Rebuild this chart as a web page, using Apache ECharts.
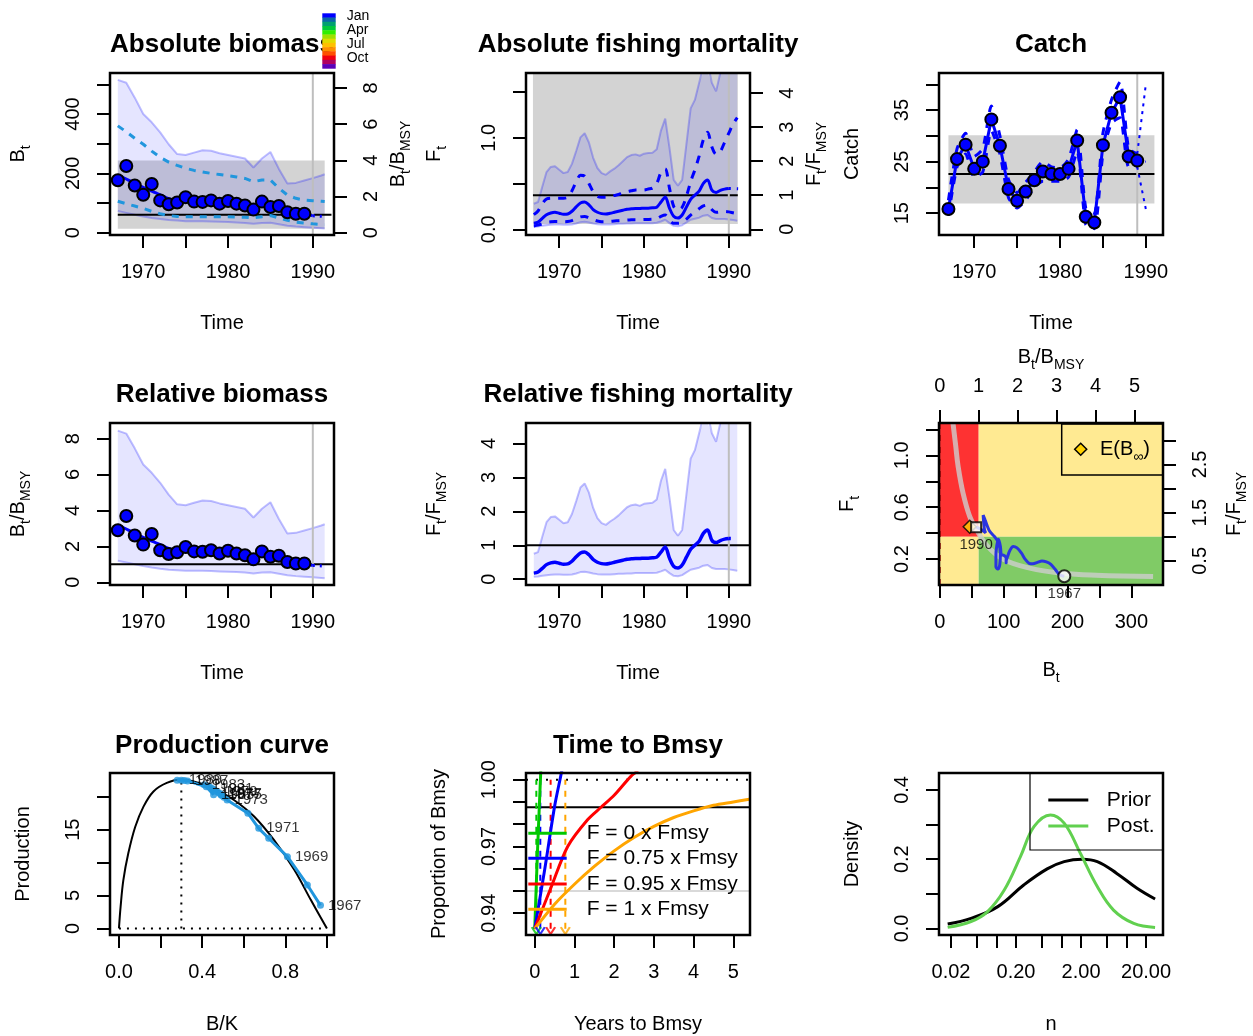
<!DOCTYPE html>
<html>
<head>
<meta charset="utf-8">
<script src="https://cdn.jsdelivr.net/npm/echarts@6/dist/echarts.min.js"></script>
<style>
  html, body { margin: 0; padding: 0; background: #fff; }
  #chart { width: 1253px; height: 1036px; }
</style>
</head>
<body>
<div id="chart"></div>
<script>
// ---------- reference points of the surplus production model ----------
const Bmsy = 61;
const Fmsy = 0.372;
const MSY = 22.6;
const bmsyCI = [13.5, 243];
const fmsyCI = [0.058, 3];
const msyCI = [16.9, 30.1];

// ---------- estimated states (half-yearly) ----------
const tEst = [1967, 1967.5, 1968, 1968.5, 1969, 1969.5, 1970, 1970.5, 1971, 1971.5,
  1972, 1972.5, 1973, 1973.5, 1974, 1974.5, 1975, 1975.5, 1976, 1976.5,
  1977, 1977.5, 1978, 1978.5, 1979, 1979.5, 1980, 1980.5, 1981, 1981.5,
  1982, 1982.5, 1983, 1983.5, 1984, 1984.5, 1985, 1985.5, 1986, 1986.5,
  1987, 1987.5, 1988, 1988.5, 1989, 1989.5, 1990];
const biomassEst = [195, 188, 181, 174, 167, 160, 153, 146, 140, 134,
  128, 121, 115, 110, 106, 104, 104, 104, 104, 104,
  104, 104, 103, 102, 101, 100, 99, 98, 97, 96,
  95, 92, 88, 88, 91, 94, 95, 92, 86, 78,
  71, 68, 70, 72, 66, 61, 57];
const fRelEst = [0.18, 0.21, 0.32, 0.43, 0.48, 0.50, 0.47, 0.44, 0.45, 0.53,
  0.66, 0.77, 0.80, 0.72, 0.58, 0.50, 0.46, 0.45, 0.47, 0.50,
  0.53, 0.56, 0.59, 0.60, 0.61, 0.61, 0.62, 0.62, 0.63, 0.65,
  0.80, 0.95, 0.62, 0.38, 0.33, 0.42, 0.65, 0.88, 1.00, 1.12,
  1.35, 1.45, 1.15, 1.08, 1.14, 1.18, 1.20];
const bPredT = [1990, 1991.4];
const bPred = [57, 55];
const fPredT = [1990, 1991.1];
const fRelPred = [1.20, 1.19];

// ---------- biomass index ----------
const idxYears = [1967, 1968, 1969, 1970, 1971, 1972, 1973, 1974, 1975, 1976, 1977, 1978,
  1979, 1980, 1981, 1982, 1983, 1984, 1985, 1986, 1987, 1988, 1989];
const biomassIndex = [177, 225, 159, 128, 164, 109, 96, 102, 120, 105, 104, 109,
  98, 107, 98, 92, 78, 105, 87, 90, 69, 64, 64];

// ---------- biomass intervals ----------
const tBandB = [1967, 1968, 1969, 1970, 1971, 1972, 1973, 1974, 1975, 1976, 1977, 1978, 1979,
  1980, 1981, 1982, 1983, 1984, 1985, 1986, 1987, 1988, 1989, 1990, 1991, 1991.4];
const bBandUp = [515, 505, 455, 400, 372, 338, 298, 265, 262, 270, 278, 276, 268,
  262, 256, 250, 220, 250, 272, 215, 166, 168, 176, 184, 193, 197];
const bBandLo = [73, 67, 61, 55, 50, 46, 43, 41, 39, 39, 39, 38, 37,
  36, 35, 33, 30, 33, 34, 29, 24, 21, 19, 17, 15, 14];
const bCiUp = [360, 340, 318, 298, 275, 254, 238, 227, 217, 210, 205, 200, 196,
  192, 188, 183, 172, 178, 178, 150, 127, 116, 110, 108, 106, 105];
const bCiLo = [106, 98, 90, 82, 72, 64, 58, 55, 54, 54, 54, 54, 54,
  54, 53, 52, 50, 54, 58, 50, 42, 36, 33, 30, 28, 27];

// ---------- fishing mortality intervals ----------
const tBandF = [1967, 1967.5, 1968, 1968.5, 1969, 1969.5, 1970, 1970.5, 1971, 1971.5,
  1972, 1972.5, 1973, 1973.5, 1974, 1974.5, 1975, 1975.5, 1976, 1976.5,
  1977, 1977.5, 1978, 1978.5, 1979, 1979.5, 1980, 1980.5, 1981, 1981.5,
  1982, 1982.5, 1983, 1983.5, 1984, 1984.5, 1985, 1985.5, 1986, 1986.5,
  1987, 1987.5, 1988, 1988.5, 1989, 1989.5, 1990, 1990.5, 1991];
const fRelBandUp = [0.75, 0.80, 1.25, 1.68, 1.83, 1.85, 1.75, 1.65, 1.68, 1.92,
  2.30, 2.70, 2.82, 2.55, 2.10, 1.80, 1.65, 1.60, 1.70, 1.78,
  1.88, 2.00, 2.12, 2.18, 2.20, 2.16, 2.22, 2.24, 2.25, 2.35,
  2.90, 3.25, 2.40, 1.45, 1.28, 1.45, 2.50, 3.55, 3.80, 4.30,
  4.80, 4.90, 4.30, 4.05, 4.60, 5.20, 5.50, 5.60, 5.60];
const fRelBandLo = [0.07, 0.08, 0.10, 0.12, 0.13, 0.14, 0.14, 0.13, 0.13, 0.14,
  0.17, 0.21, 0.22, 0.20, 0.17, 0.15, 0.14, 0.14, 0.14, 0.15,
  0.16, 0.16, 0.17, 0.17, 0.18, 0.18, 0.18, 0.18, 0.18, 0.19,
  0.23, 0.28, 0.18, 0.10, 0.09, 0.12, 0.20, 0.28, 0.31, 0.34,
  0.40, 0.42, 0.33, 0.30, 0.30, 0.30, 0.29, 0.27, 0.25];
const fCiUp = [0.16, 0.20, 0.28, 0.33, 0.34, 0.34, 0.34, 0.34, 0.35, 0.42,
  0.52, 0.59, 0.58, 0.50, 0.41, 0.36, 0.35, 0.35, 0.36, 0.37,
  0.38, 0.40, 0.41, 0.42, 0.43, 0.43, 0.43, 0.44, 0.45, 0.50,
  0.62, 0.66, 0.45, 0.25, 0.21, 0.24, 0.36, 0.52, 0.65, 0.80,
  0.98, 1.06, 0.90, 0.82, 0.85, 0.95, 1.05, 1.15, 1.22];
const fCiLo = [0.037, 0.045, 0.06, 0.075, 0.082, 0.085, 0.085, 0.083, 0.085, 0.095,
  0.115, 0.135, 0.14, 0.125, 0.105, 0.09, 0.083, 0.083, 0.086, 0.09,
  0.094, 0.098, 0.10, 0.103, 0.105, 0.105, 0.107, 0.108, 0.11, 0.115,
  0.14, 0.155, 0.10, 0.065, 0.066, 0.075, 0.11, 0.155, 0.19, 0.225,
  0.255, 0.265, 0.215, 0.185, 0.19, 0.195, 0.19, 0.18, 0.17];

// ---------- catch ----------
const catchYears = [1967, 1968, 1969, 1970, 1971, 1972, 1973, 1974, 1975, 1976, 1977, 1978,
  1979, 1980, 1981, 1982, 1983, 1984, 1985, 1986, 1987, 1988, 1989];
const catchObs = [15.8, 25.5, 28.3, 23.6, 25.0, 33.2, 28.1, 19.7, 17.4, 19.2, 21.4, 23.1,
  22.6, 22.6, 23.6, 29.1, 14.3, 13.2, 28.2, 34.5, 37.5, 26.0, 25.2];
const catchUp = [17.5, 27.5, 30.5, 26.0, 27.5, 35.8, 30.0, 21.5, 19.0, 21.0, 23.0, 25.0,
  24.0, 23.8, 25.5, 31.2, 16.0, 15.0, 30.5, 37.0, 40.5, 27.5, 26.5];
const catchLo = [14.5, 24.0, 26.5, 22.0, 23.0, 31.0, 26.5, 18.0, 16.0, 17.5, 20.0, 21.2,
  21.2, 21.2, 22.0, 27.0, 12.8, 12.0, 26.5, 32.5, 33.5, 24.0, 24.0];
const catchPredT = [1989, 1990];
const catchPredMid = [25.2, 25.0];
const catchPredUp = [26.5, 40.0];
const catchPredLo = [24.0, 15.8];

// ---------- phase plot ----------
const kobeRefB = [20.9, 25, 28.7, 36.5, 46.9, 57.4, 73, 99, 141, 193, 245, 334];
const kobeRefF = [1.245, 1.076, 0.92, 0.71, 0.53, 0.43, 0.31, 0.2, 0.13, 0.09, 0.075, 0.065];
const eBinf = [47, 0.449];

// ---------- production curve ----------
const prodCurveBK = [0, 0.008, 0.021, 0.045, 0.078, 0.118, 0.166, 0.23, 0.30, 0.391, 0.472, 0.553, 0.65, 0.746, 0.843, 0.923, 1.0];
const prodCurveP = [0, 3.3, 7.3, 11.4, 15.4, 18.5, 20.8, 22.1, 22.6, 22.0, 21.0, 19.5, 17.0, 13.4, 8.9, 4.3, 0];
const prodYears = [1967, 1968, 1969, 1970, 1971, 1972, 1973, 1974, 1975, 1976, 1977, 1978,
  1979, 1980, 1981, 1982, 1983, 1984, 1985, 1986, 1987, 1988, 1989, 1990];
const prodBK = [0.969, 0.906, 0.81, 0.72, 0.672, 0.62, 0.52, 0.505, 0.49, 0.495, 0.49, 0.48,
  0.47, 0.46, 0.45, 0.44, 0.41, 0.43, 0.455, 0.42, 0.33, 0.315, 0.30, 0.28];
const prodP = [3.5, 6.6, 10.9, 13.7, 15.2, 17.5, 19.5, 19.9, 20.3, 20.2, 20.4, 20.6,
  20.8, 21.0, 21.2, 21.4, 21.8, 21.6, 20.3, 21.5, 22.4, 22.45, 22.5, 22.5];
const prodLabelYears = [1967, 1969, 1971, 1973, 1975, 1977, 1979, 1981, 1983, 1985, 1987, 1989];

// ---------- time to Bmsy ----------
const ttbScenarios = ['F = 0 x Fmsy', 'F = 0.75 x Fmsy', 'F = 0.95 x Fmsy', 'F = 1 x Fmsy'];
const ttbColors = ['#00c800', '#0000ff', '#ff0000', '#ffa500'];
const ttbT = [
  [0, 0.07, 0.15, 0.17],
  [0, 0.25, 0.5, 0.67, 0.72],
  [0, 0.42, 0.83, 1.33, 1.67, 2.0, 2.42, 2.6],
  [0, 0.5, 1, 1.5, 2, 2.5, 3, 3.5, 4, 4.5, 5, 5.4]
];
const ttbProp = [
  [0.933, 0.968, 1.003, 1.012],
  [0.933, 0.9595, 0.988, 1.003, 1.008],
  [0.933, 0.952, 0.970, 0.982, 0.9876, 0.993, 1.0015, 1.004],
  [0.933, 0.944, 0.953, 0.961, 0.968, 0.974, 0.979, 0.983, 0.986, 0.9885, 0.990, 0.9912]
];
const ttbReach = [0.04, 0.14, 0.40, 0.77];
const ttbStart = 0.933;
const ttbRefLine = 0.9876;

// ---------- prior / posterior of n ----------
const nPrior = [0.0178, 0.0407, 0.105, 0.263, 0.603, 1.10, 2.09, 3.55, 7.08, 14.5, 27.5];
const densPrior = [0.0125, 0.029, 0.063, 0.1255, 0.172, 0.193, 0.200, 0.193, 0.159, 0.116, 0.085];
const nPost = [0.0178, 0.0407, 0.0724, 0.132, 0.234, 0.380, 0.676, 1.10, 1.95, 3.55, 6.31, 12.9, 27.5];
const densPost = [0.003, 0.02, 0.048, 0.111, 0.2075, 0.2945, 0.328, 0.304, 0.217, 0.121, 0.053, 0.0145, 0.003];

// ---------- month colour key ----------
const monthColors = ['#0000ff', '#0a66a8', '#00a070', '#00c83c', '#30ee00', '#a0e000',
  '#e0dc00', '#ffc000', '#ff9000', '#ff5000', '#f00010', '#b00060', '#5a00b8'];
const monthLabels = ['Jan', 'Apr', 'Jul', 'Oct'];

// =====================================================================
const FONT = '"Liberation Sans", Arial, Helvetica, sans-serif';
const COL_L = [110, 526, 939];
const ROW_T = [73, 423, 773];
const W = 224, H = 162;
const TITLE_Y = [44.5, 395, 745.5];
const TIME_TICKS = [1970, 1975, 1980, 1985, 1990];
const TIME_LABELS = [1970, 1980, 1990];

const grids = [], xAxes = [], yAxes = [], series = [], graphic = [];
const RICH = {
  n: { fontSize: 20, fontFamily: FONT, color: '#000', lineHeight: 30, verticalAlign: 'middle' },
  s: { fontSize: 14, fontFamily: FONT, color: '#000', lineHeight: 30, verticalAlign: 'bottom' }
};
const zip = (xs, ys, f) => xs.map((x, i) => [x, f ? f(ys[i]) : ys[i]]);

function axisOpt(gridIndex, a, position, isX) {
  return {
    type: 'value', gridIndex, position, min: a.min, max: a.max,
    axisLine: { show: false, onZero: false },
    splitLine: { show: false }, splitArea: { show: false },
    axisTick: { show: true, customValues: a.ticks, length: 13, lineStyle: { color: '#000', width: 2 } },
    axisLabel: {
      show: true, customValues: a.labels || a.ticks, margin: 27, rotate: isX ? 0 : 90,
      color: '#000', fontSize: 20, fontFamily: FONT, hideOverlap: false,
      formatter: a.fmt || (v => String(v))
    },
    name: a.name || '', nameLocation: 'middle', nameGap: a.gap || 0, nameRotate: isX ? 0 : 90,
    nameMoveOverlap: false,
    nameTextStyle: { color: '#000', fontSize: 20, fontFamily: FONT, rich: RICH }
  };
}

function panel(col, row, spec) {
  const gi = grids.length;
  const left = COL_L[col], top = ROW_T[row];
  grids.push({ left, top, width: W, height: H, show: false, containLabel: false, outerBoundsMode: 'none' });
  const ix = { x: xAxes.length, y: yAxes.length };
  xAxes.push(axisOpt(gi, spec.x, 'bottom', true));
  yAxes.push(axisOpt(gi, spec.y, 'left', false));
  if (spec.x2) xAxes.push(axisOpt(gi, spec.x2, 'top', true));
  if (spec.y2) yAxes.push(axisOpt(gi, spec.y2, 'right', false));
  graphic.push({ type: 'rect', z: 100, silent: true, shape: { x: left, y: top, width: W, height: H },
    style: { fill: 'none', stroke: '#000', lineWidth: 2.5 } });
  if (spec.title) {
    graphic.push({ type: 'text', z: 100, silent: true, x: left + W / 2, y: TITLE_Y[row],
      style: { text: spec.title, fill: '#000', font: 'bold 26px ' + FONT,
        textAlign: 'center', textVerticalAlign: 'middle', align: 'center', verticalAlign: 'middle' } });
  }
  return ix;
}

function line(ix, data, color, width, dash, extra) {
  series.push(Object.assign({
    type: 'line', xAxisIndex: ix.x, yAxisIndex: ix.y, data, symbol: 'none', showSymbol: false,
    lineStyle: { color, width, type: dash || 'solid', cap: 'butt' },
    silent: true, z: 3, clip: true, animation: false
  }, extra || {}));
}
function clampPt(p, cs) {
  return [Math.min(Math.max(p[0], cs.x), cs.x + cs.width), Math.min(Math.max(p[1], cs.y), cs.y + cs.height)];
}
function band(ix, xs, lo, hi, fill, z) {
  series.push({
    type: 'custom', xAxisIndex: ix.x, yAxisIndex: ix.y, silent: true, z: z || 1, clip: true, data: [0],
    animation: false,
    renderItem: (params, api) => {
      const cs = params.coordSys;
      const pts = xs.map((x, i) => clampPt(api.coord([x, hi[i]]), cs));
      for (let i = xs.length - 1; i >= 0; i--) pts.push(clampPt(api.coord([xs[i], lo[i]]), cs));
      return { type: 'polygon', shape: { points: pts }, style: { fill } };
    }
  });
}
function rect(ix, x0, x1, y0, y1, fill, z) {
  series.push({
    type: 'custom', xAxisIndex: ix.x, yAxisIndex: ix.y, silent: true, z: z || 1, clip: true, data: [0],
    animation: false,
    renderItem: (params, api) => {
      const cs = params.coordSys;
      const a = clampPt(api.coord([x0, y1]), cs), b = clampPt(api.coord([x1, y0]), cs);
      return { type: 'rect', shape: { x: a[0], y: a[1], width: b[0] - a[0], height: b[1] - a[1] }, style: { fill } };
    }
  });
}
function dots(ix, data, extra) {
  series.push(Object.assign({
    type: 'scatter', xAxisIndex: ix.x, yAxisIndex: ix.y, data, symbol: 'circle', symbolSize: 12,
    itemStyle: { color: '#0000ff', borderColor: '#000', borderWidth: 2, opacity: 1 },
    silent: true, z: 6, animation: false
  }, extra || {}));
}

const BAND_FILL = 'rgba(0,0,255,0.1)';
const BAND_EDGE = 'rgba(0,0,255,0.25)';
const LIGHT_BLUE = '#2196dd';
const GREY_RECT = '#d3d3d3';
const VLINE = '#bebebe';
const SMALL = { color: '#000', fontSize: 15, fontFamily: FONT };

// ---------------- Absolute biomass ----------------
const b1 = [-7.5, 538];
const p1 = panel(0, 0, {
  title: 'Absolute biomass',
  x: { min: 1966.08, max: 1992.5, ticks: TIME_TICKS, labels: TIME_LABELS, name: 'Time', gap: 78 },
  y: { min: b1[0], max: b1[1], ticks: [0, 100, 200, 300, 400, 500], labels: [0, 200, 400], name: '{n|B}{s|t}', gap: 77 },
  y2: { min: b1[0] / Bmsy, max: b1[1] / Bmsy, ticks: [0, 2, 4, 6, 8], name: '{n|B}{s|t}{n|/B}{s|MSY}', gap: 49 }
});
rect(p1, 1967, 1991.4, bmsyCI[0], bmsyCI[1], GREY_RECT, 1);
band(p1, tBandB, bBandLo, bBandUp, BAND_FILL, 2);
line(p1, zip(tBandB, bBandUp), BAND_EDGE, 2);
line(p1, zip(tBandB, bBandLo), BAND_EDGE, 2);
line(p1, [[1967, Bmsy], [1992.2, Bmsy]], '#000', 2);
line(p1, [[1990, b1[0]], [1990, b1[1]]], VLINE, 2);
line(p1, zip(tBandB, bCiUp), LIGHT_BLUE, 3, [7, 7]);
line(p1, zip(tBandB, bCiLo), LIGHT_BLUE, 3, [7, 7]);
line(p1, zip(tEst, biomassEst), '#0000ff', 3, 'solid', { smooth: 0.3 });
line(p1, zip(bPredT, bPred), '#0000ff', 3, [2, 5]);
dots(p1, zip(idxYears, biomassIndex));

// month key
const keyTop = 13.3, keyH = 55 / monthColors.length;
monthColors.forEach((c, i) => {
  graphic.push({ type: 'rect', z: 110, silent: true,
    shape: { x: 322.3, y: keyTop + i * keyH, width: 13.4, height: keyH + 0.4 }, style: { fill: c } });
});
monthLabels.forEach((m, i) => {
  graphic.push({ type: 'text', z: 110, silent: true, x: 346.7, y: 16 + i * 14,
    style: { text: m, fill: '#000', font: '14px ' + FONT, textAlign: 'left', textVerticalAlign: 'middle', align: 'left', verticalAlign: 'middle' } });
});

// ---------------- Absolute fishing mortality ----------------
const fr = [-0.168, 4.59];
const p2 = panel(1, 0, {
  title: 'Absolute fishing mortality',
  x: { min: 1966.08, max: 1992.5, ticks: TIME_TICKS, labels: TIME_LABELS, name: 'Time', gap: 78 },
  y: { min: fr[0] * Fmsy, max: fr[1] * Fmsy, ticks: [0, 0.5, 1.0, 1.5], labels: [0, 1], fmt: v => v.toFixed(1), name: '{n|F}{s|t}', gap: 77 },
  y2: { min: fr[0], max: fr[1], ticks: [0, 1, 2, 3, 4], name: '{n|F}{s|t}{n|/F}{s|MSY}', gap: 49 }
});
const toF = v => v * Fmsy;
rect(p2, 1966.9, 1991.06, fmsyCI[0], fmsyCI[1], GREY_RECT, 1);
band(p2, tBandF, fRelBandLo.map(toF), fRelBandUp.map(toF), BAND_FILL, 2);
line(p2, zip(tBandF, fRelBandUp, toF), BAND_EDGE, 2);
line(p2, zip(tBandF, fRelBandLo, toF), BAND_EDGE, 2);
line(p2, [[1966.9, Fmsy], [1991.06, Fmsy]], '#000', 2);
line(p2, [[1990, fr[0] * Fmsy], [1990, fr[1] * Fmsy]], VLINE, 2);
line(p2, zip(tBandF, fCiUp), '#0000ff', 3, [8, 8], { smooth: 0.3 });
line(p2, zip(tBandF, fCiLo), '#0000ff', 3, [8, 8], { smooth: 0.3 });
line(p2, zip(tEst, fRelEst, toF), '#0000ff', 3, 'solid', { smooth: 0.3 });
line(p2, zip(fPredT, fRelPred, toF), '#0000ff', 3, [2, 6]);

// ---------------- Catch ----------------
const c3 = [10.77, 42.2];
const p3 = panel(2, 0, {
  title: 'Catch',
  x: { min: 1965.9, max: 1992.0, ticks: TIME_TICKS, labels: TIME_LABELS, name: 'Time', gap: 78 },
  y: { min: c3[0], max: c3[1], ticks: [15, 20, 25, 30, 35, 40], labels: [15, 25, 35], name: 'Catch', gap: 77 }
});
rect(p3, 1967, 1991, msyCI[0], msyCI[1], GREY_RECT, 1);
line(p3, [[1967, MSY], [1991, MSY]], '#000', 2);
line(p3, [[1989, c3[0]], [1989, c3[1]]], VLINE, 2);
line(p3, zip(catchYears, catchUp), '#0000ff', 3, [8, 8], { smooth: 0.2 });
line(p3, zip(catchYears, catchLo), '#0000ff', 3, [8, 8], { smooth: 0.2 });
line(p3, zip(catchYears, catchObs), '#0000ff', 3);
line(p3, zip(catchPredT, catchPredMid), '#0000ff', 2, [3, 5]);
line(p3, zip(catchPredT, catchPredUp), '#0000ff', 2, [3, 5]);
line(p3, zip(catchPredT, catchPredLo), '#0000ff', 2, [3, 5]);
dots(p3, zip(catchYears, catchObs));

// ---------------- Relative biomass ----------------
const r4 = [-0.15, 8.87];
const p4 = panel(0, 1, {
  title: 'Relative biomass',
  x: { min: 1966.08, max: 1992.5, ticks: TIME_TICKS, labels: TIME_LABELS, name: 'Time', gap: 78 },
  y: { min: r4[0], max: r4[1], ticks: [0, 2, 4, 6, 8], name: '{n|B}{s|t}{n|/B}{s|MSY}', gap: 77 }
});
const toRel = v => v / Bmsy;
band(p4, tBandB, bBandLo.map(toRel), bBandUp.map(toRel), BAND_FILL, 2);
line(p4, zip(tBandB, bBandUp, toRel), BAND_EDGE, 2);
line(p4, zip(tBandB, bBandLo, toRel), BAND_EDGE, 2);
line(p4, [[1966.08, 1], [1992.5, 1]], '#000', 2);
line(p4, [[1990, r4[0]], [1990, r4[1]]], VLINE, 2);
line(p4, zip(tEst, biomassEst, toRel), '#0000ff', 3, 'solid', { smooth: 0.3 });
line(p4, zip(bPredT, bPred, toRel), '#0000ff', 3, [2, 5]);
dots(p4, zip(idxYears, biomassIndex, toRel));

// ---------------- Relative fishing mortality ----------------
const r5 = [-0.17, 4.6];
const p5 = panel(1, 1, {
  title: 'Relative fishing mortality',
  x: { min: 1966.08, max: 1992.5, ticks: TIME_TICKS, labels: TIME_LABELS, name: 'Time', gap: 78 },
  y: { min: r5[0], max: r5[1], ticks: [0, 1, 2, 3, 4], name: '{n|F}{s|t}{n|/F}{s|MSY}', gap: 77 }
});
band(p5, tBandF, fRelBandLo, fRelBandUp, BAND_FILL, 2);
line(p5, zip(tBandF, fRelBandUp), BAND_EDGE, 2);
line(p5, zip(tBandF, fRelBandLo), BAND_EDGE, 2);
line(p5, [[1966.08, 1], [1992.5, 1]], '#000', 2);
line(p5, [[1990, r5[0]], [1990, r5[1]]], VLINE, 2);
line(p5, zip(tEst, fRelEst), '#0000ff', 3.5, 'solid', { smooth: 0.3 });
line(p5, zip(fPredT, fRelPred), '#0000ff', 3.5, [2, 8]);

// ---------------- Phase plot ----------------
const kx = [-1.1, 349.5], ky = [0, 1.25];
const p6 = panel(2, 1, {
  x: { min: kx[0], max: kx[1], ticks: [0, 50, 100, 150, 200, 250, 300], labels: [0, 100, 200, 300], name: '{n|B}{s|t}', gap: 70 },
  y: { min: ky[0], max: ky[1], ticks: [0.2, 0.4, 0.6, 0.8, 1.0, 1.2], labels: [0.2, 0.6, 1.0], fmt: v => v.toFixed(1), name: '{n|F}{s|t}', gap: 77 },
  x2: { min: kx[0] / Bmsy, max: kx[1] / Bmsy, ticks: [0, 1, 2, 3, 4, 5], name: '{n|B}{s|t}{n|/B}{s|MSY}', gap: 51 },
  y2: { min: ky[0] / Fmsy, max: ky[1] / Fmsy, ticks: [0.5, 1.0, 1.5, 2.0, 2.5, 3.0], labels: [0.5, 1.5, 2.5], fmt: v => v.toFixed(1), name: '{n|F}{s|t}{n|/F}{s|MSY}', gap: 56 }
});
rect(p6, kx[0], Bmsy, Fmsy, ky[1], '#fe3232', 1);
rect(p6, kx[0], Bmsy, ky[0], Fmsy, '#ffea92', 1);
rect(p6, Bmsy, kx[1], Fmsy, ky[1], '#ffea92', 1);
rect(p6, Bmsy, kx[1], ky[0], Fmsy, '#80cb66', 1);
line(p6, [[0, ky[0]], [0, ky[1]]], '#a00000', 2, [6, 6]);
line(p6, zip(kobeRefB, kobeRefF), 'rgba(205,205,205,0.8)', 5, 'solid', { smooth: 0.4 });
line(p6, biomassEst.map((b, i) => [b, fRelEst[i] * Fmsy]), '#2a35e0', 3, 'solid', { smooth: 0.3, z: 4 });
dots(p6, [eBinf], { symbol: 'diamond', symbolSize: [13, 13], itemStyle: { color: '#ffd000', borderColor: '#000', borderWidth: 1.5 }, z: 6 });
dots(p6, [[biomassEst[0], fRelEst[0] * Fmsy, tEst[0]]], {
  symbolSize: 12, itemStyle: { color: '#fff', borderColor: '#000', borderWidth: 2 }, z: 7,
  label: Object.assign({ show: true, position: 'bottom', distance: 3, formatter: p => String(p.value[2]) }, SMALL)
});
const last = tEst.length - 1;
dots(p6, [[biomassEst[last], fRelEst[last] * Fmsy, tEst[last]]], {
  symbol: 'rect', symbolSize: 10, itemStyle: { color: '#fff', borderColor: '#000', borderWidth: 2 }, z: 7,
  label: Object.assign({ show: true, position: 'bottom', distance: 4, formatter: p => String(p.value[2]) }, SMALL)
});
// phase plot legend
graphic.push({ type: 'rect', z: 101, silent: true, shape: { x: 1061.7, y: 424, width: 101.3, height: 51 },
  style: { fill: 'none', stroke: '#000', lineWidth: 1.5 } });
graphic.push({ type: 'polygon', z: 102, silent: true,
  shape: { points: [[1080.7, 443.3], [1086.7, 449.3], [1080.7, 455.3], [1074.7, 449.3]] },
  style: { fill: '#ffd000', stroke: '#000', lineWidth: 1.5 } });
graphic.push({ type: 'text', z: 102, silent: true, x: 1100, y: 449.3,
  style: { text: '{n|E(B}{s|∞}{n|)}', rich: RICH, textAlign: 'left', textVerticalAlign: 'middle', align: 'left', verticalAlign: 'middle' } });

// ---------------- Production curve ----------------
const p7 = panel(0, 2, {
  title: 'Production curve',
  x: { min: -0.043, max: 1.034, ticks: [0, 0.2, 0.4, 0.6, 0.8, 1.0], labels: [0, 0.4, 0.8], fmt: v => v.toFixed(1), name: 'B/K', gap: 79 },
  y: { min: -1.0, max: 23.6, ticks: [0, 5, 10, 15, 20], labels: [0, 5, 15], name: 'Production', gap: 77 }
});
line(p7, zip(prodCurveBK, prodCurveP), '#000', 2, 'solid', { smooth: 0.35 });
line(p7, [[0.3, 0], [0.3, MSY]], '#000', 2, [2, 6]);
line(p7, [[0, 0], [1, 0]], '#000', 2, [2, 6]);
line(p7, zip(prodBK, prodP), LIGHT_BLUE, 3, 'solid', { z: 4 });
dots(p7, prodBK.map((b, i) => [b, prodP[i], prodYears[i]]), {
  symbolSize: 7, itemStyle: { color: LIGHT_BLUE, borderWidth: 0 }, z: 5,
  label: Object.assign({ show: true, position: 'right', distance: 4,
    formatter: p => prodLabelYears.indexOf(p.value[2]) >= 0 ? String(p.value[2]) : '' }, SMALL)
});

// ---------------- Time to Bmsy ----------------
const ty = [0.9302, 1.003];
const p8 = panel(1, 2, {
  title: 'Time to Bmsy',
  x: { min: -0.22, max: 5.42, ticks: [0, 1, 2, 3, 4, 5], name: 'Years to Bmsy', gap: 79 },
  y: { min: ty[0], max: ty[1], ticks: [0.94, 0.95, 0.96, 0.97, 0.98, 0.99, 1.00], labels: [0.94, 0.97, 1.00], fmt: v => v.toFixed(2), name: 'Proportion of Bmsy', gap: 77 }
});
line(p8, [[-0.22, 0.95], [5.42, 0.95]], '#cccccc', 1.5);
line(p8, [[-0.22, ttbRefLine], [5.42, ttbRefLine]], '#000', 2);
line(p8, [[-0.22, 1.0], [5.42, 1.0]], '#000', 2, [2, 8]);
ttbReach.forEach((x, i) => {
  line(p8, [[x, ttbStart], [x, 1.0]], ttbColors[i], 2, [6, 6]);
});
ttbT.forEach((ts, i) => {
  line(p8, zip(ts, ttbProp[i]), ttbColors[i], 3, 'solid', { smooth: 0.3, z: 4 });
});
ttbReach.forEach((x, i) => {
  dots(p8, [[x, 0.9322]], { symbol: 'path://M0,0 L5,8 L10,0', symbolSize: [9, 7],
    itemStyle: { color: 'none', borderColor: ttbColors[i], borderWidth: 2 }, z: 5 });
});
const legY = [833.3, 858.3, 884, 909.3];
ttbScenarios.forEach((s, i) => {
  graphic.push({ type: 'line', z: 101, silent: true, shape: { x1: 528.3, y1: legY[i], x2: 566.7, y2: legY[i] },
    style: { stroke: ttbColors[i], lineWidth: 3 } });
  graphic.push({ type: 'text', z: 101, silent: true, x: 586.7, y: legY[i],
    style: { text: s, fill: '#000', font: '21px ' + FONT, textAlign: 'left', textVerticalAlign: 'middle', align: 'left', verticalAlign: 'middle' } });
});

// ---------------- Prior / posterior of n ----------------
const nTicks = [0.02, 0.05, 0.1, 0.2, 0.5, 1, 2, 5, 10, 20];
const nLabels = [0.02, 0.2, 2, 20];
const p9 = panel(2, 2, {
  x: { min: -1.883, max: 1.561, ticks: nTicks.map(Math.log10), labels: nLabels.map(Math.log10), fmt: v => Math.pow(10, v).toFixed(2), name: 'n', gap: 79 },
  y: { min: -0.019, max: 0.449, ticks: [0, 0.1, 0.2, 0.3, 0.4], labels: [0, 0.2, 0.4], fmt: v => v.toFixed(1), name: 'Density', gap: 77 }
});
line(p9, zip(nPrior.map(Math.log10), densPrior), '#000', 3, 'solid', { smooth: 0.4 });
line(p9, zip(nPost.map(Math.log10), densPost), '#61d04f', 3, 'solid', { smooth: 0.4 });
graphic.push({ type: 'rect', z: 101, silent: true, shape: { x: 1030, y: 773, width: 133, height: 77 },
  style: { fill: 'none', stroke: '#000', lineWidth: 1.2 } });
[['Prior', '#000', 800], ['Post.', '#61d04f', 826]].forEach(([t, c, y]) => {
  graphic.push({ type: 'line', z: 101, silent: true, shape: { x1: 1048.3, y1: y, x2: 1088.3, y2: y },
    style: { stroke: c, lineWidth: 3 } });
  graphic.push({ type: 'text', z: 101, silent: true, x: 1106.7, y,
    style: { text: t, fill: '#000', font: '21px ' + FONT, textAlign: 'left', textVerticalAlign: 'middle', align: 'left', verticalAlign: 'middle' } });
});

const chart = echarts.init(document.getElementById('chart'), null, { renderer: 'canvas' });
chart.setOption({
  animation: false,
  backgroundColor: '#fff',
  textStyle: { fontFamily: FONT },
  grid: grids,
  xAxis: xAxes,
  yAxis: yAxes,
  series,
  graphic: { elements: graphic }
});
</script>
</body>
</html>
